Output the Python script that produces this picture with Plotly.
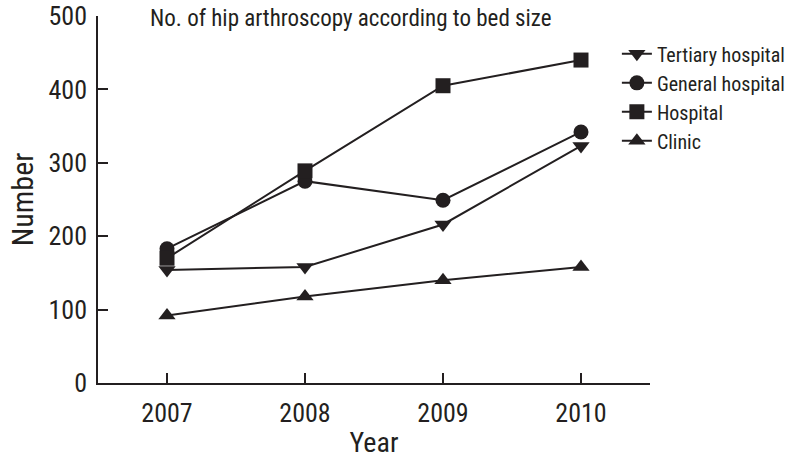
import plotly.graph_objects as go

years = [2007, 2008, 2009, 2010]
tertiary = [154, 158, 216, 323]
general = [183, 275, 249, 342]
hospital = [170, 289, 405, 440]
clinic = [92, 118, 140, 158]

series_names = ["Tertiary hospital", "General hospital", "Hospital", "Clinic"]
series_values = [tertiary, general, hospital, clinic]
symbols = ["triangle-down", "circle", "square", "triangle-up"]

INK = "#231f20"
FONT = "Roboto Condensed, Liberation Sans Narrow, Arial Narrow, Roboto, sans-serif"

W, H = 795, 459

fig = go.Figure()
for name, vals, sym in zip(series_names, series_values, symbols):
    fig.add_trace(go.Scatter(
        x=years, y=vals, name=name, mode="lines+markers",
        line=dict(color=INK, width=2),
        marker=dict(symbol=sym, size=15, color=INK, line=dict(width=0)),
    ))

fig.update_layout(
    width=W, height=H,
    margin=dict(l=98, r=W - 650, t=16, b=H - 383, autoexpand=False),
    paper_bgcolor="white", plot_bgcolor="white",
    font=dict(family=FONT, color=INK, size=22),
    showlegend=True,
    legend=dict(x=0.94, y=0.95, xanchor="left", yanchor="top",
                font=dict(size=20, family=FONT, color=INK),
                bgcolor="rgba(0,0,0,0)", tracegroupgap=0, itemwidth=30),
    xaxis=dict(range=[2006.5, 2010.5], tickmode="array", tickvals=years,
               ticktext=[str(y) for y in years], automargin=False,
               ticks="inside", ticklen=10, tickwidth=1.5, tickcolor=INK,
               showline=True, linecolor=INK, linewidth=1.5,
               showgrid=False, zeroline=False,
               tickfont=dict(size=26), ticklabelstandoff=6,
               title=dict(text="Year", font=dict(size=28), standoff=8)),
    yaxis=dict(range=[0, 500], tickvals=[0, 100, 200, 300, 400, 500],
               automargin=False, ticklabeloverflow="allow",
               ticks="inside", ticklen=10, tickwidth=1.5, tickcolor=INK,
               showline=True, linecolor=INK, linewidth=1.5,
               showgrid=False, zeroline=False,
               tickfont=dict(size=26), ticklabelstandoff=4,
               title=dict(text="Number", font=dict(size=30), standoff=6)),
    title=dict(text="No. of hip arthroscopy according to bed size",
               x=150 / W, xanchor="left", xref="container",
               y=1 - 18 / H, yanchor="middle", yref="container",
               pad=dict(t=0, b=0, l=0, r=0),
               font=dict(size=23, family=FONT, color=INK)),
)

fig.write_html("out.html", config={"displayModeBar": False},
               post_script="document.body.style.margin='0';document.body.style.overflow='hidden';")
